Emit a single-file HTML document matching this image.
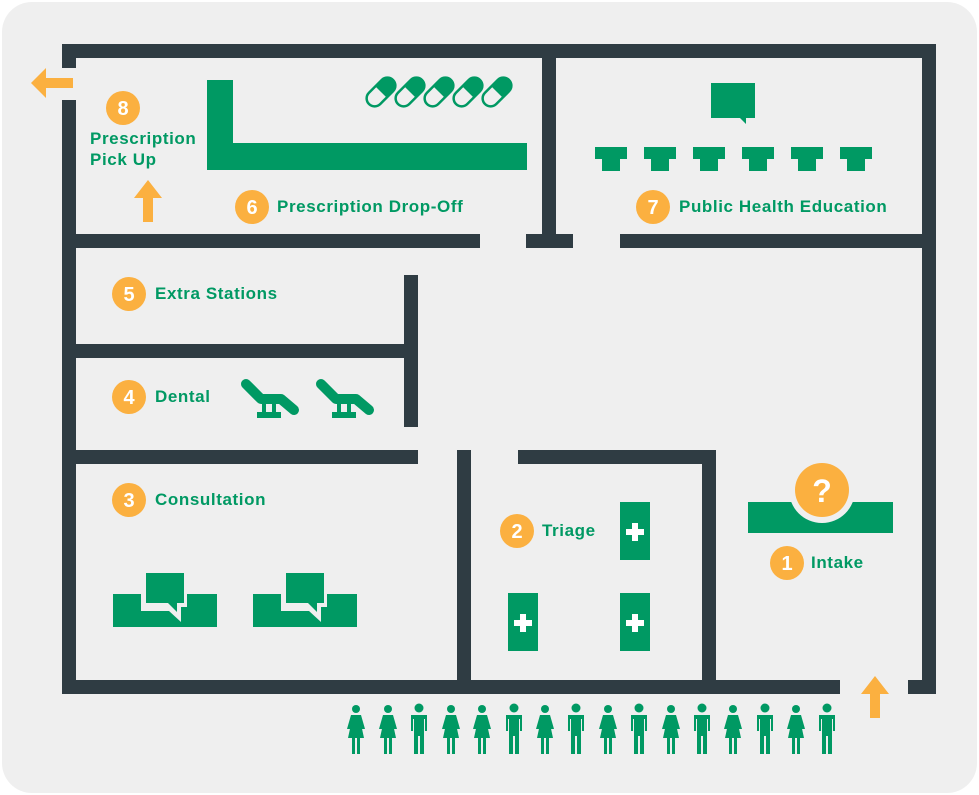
<!DOCTYPE html>
<html><head><meta charset="utf-8"><style>
html,body{margin:0;padding:0;background:#fff;}
svg{display:block}
text{font-family:"Liberation Sans",sans-serif;font-weight:bold;}
</style></head><body>
<svg width="979" height="795" viewBox="0 0 979 795" xmlns="http://www.w3.org/2000/svg">
<defs>
<g id="fem" fill="#009963">
<circle cx="0" cy="-33" r="4"/>
<path d="M-5,-27 H5 L9,-13 H6 L5,-18 L8,-4 H4 V12 H1 V-4 H-1 V12 H-4 V-4 H-8 L-5,-18 L-6,-13 H-9 Z"/>
</g>
<g id="male" fill="#009963">
<circle cx="0" cy="-34" r="4.5"/>
<path d="M-8,-27 H8 V-11 H6 V-23 H5 V12 H1 V-6 H-1 V12 H-5 V-23 H-6 V-11 H-8 Z"/>
</g>
<g id="desk" fill="#009963"><rect x="0" y="0" width="32" height="12"/><rect x="7" y="12" width="18" height="12"/></g>
<g id="chair">
<polyline points="0,0 15,15 35,15 48,26" fill="none" stroke="#009963" stroke-width="10" stroke-linecap="round" stroke-linejoin="round"/>
<rect x="16" y="19" width="4" height="10" fill="#009963"/><rect x="26" y="19" width="4" height="10" fill="#009963"/>
<rect x="11" y="28" width="24" height="6" fill="#009963"/>
</g>
<g id="cons">
<rect x="0" y="0" width="104" height="33" fill="#009963"/>
<path d="M28,-4 H74 V13 H68 V28 L56,17 H28 Z" fill="#efefef"/>
<path d="M33,-21 H71 V9 H64 V18 L55,9 H33 Z" fill="#009963"/>
</g>
<g id="bed"><rect x="0" y="0" width="30" height="58" fill="#009963"/><rect x="12" y="21" width="6" height="18" fill="#fff"/><rect x="6" y="27" width="18" height="6" fill="#fff"/></g>
<g id="pill"><g transform="rotate(-45)"><rect x="-17" y="-8" width="34" height="16" rx="8" fill="none" stroke="#009963" stroke-width="2.5"/><path d="M0,-8 H9 A8,8 0 0 1 9,8 H0 Z" fill="#009963"/></g></g>
</defs>
<rect x="0" y="0" width="979" height="795" fill="#fff"/>
<rect x="2" y="2" width="975" height="791" rx="30" fill="#efefef"/>
<g fill="#2f3c43">
<rect x="62" y="44" width="874" height="14"/>
<rect x="62" y="44" width="14" height="24"/>
<rect x="62" y="100" width="14" height="594"/>
<rect x="922" y="44" width="14" height="650"/>
<rect x="62" y="680" width="778" height="14"/>
<rect x="908" y="680" width="28" height="14"/>
<rect x="542" y="44" width="14" height="204"/>
<rect x="62" y="234" width="418" height="14"/>
<rect x="526" y="234" width="47" height="14"/>
<rect x="620" y="234" width="302" height="14"/>
<rect x="404" y="275" width="14" height="152"/>
<rect x="62" y="344" width="356" height="14"/>
<rect x="62" y="450" width="356" height="14"/>
<rect x="457" y="450" width="14" height="244"/>
<rect x="518" y="450" width="198" height="14"/>
<rect x="702" y="450" width="14" height="244"/>
</g>
<g fill="#fbb040">
<path d="M31,83 L46,68 V78 H73 V88 H46 V98 Z"/>
<path d="M148,180 L162,198 H153 V222 H143 V198 H134 Z"/>
<path d="M875,676 L889,694 H880 V718 H870 V694 H861 Z"/>
</g>
<path d="M207,80 H233 V143 H527 V170 H207 Z" fill="#009963"/>
<use href="#pill" x="381" y="92"/><use href="#pill" x="410" y="92"/><use href="#pill" x="439" y="92"/><use href="#pill" x="468" y="92"/><use href="#pill" x="497" y="92"/>
<path d="M711,83 H755 V118 H746 V124 L740,118 H711 Z" fill="#009963"/>
<use href="#desk" x="595" y="147"/><use href="#desk" x="644" y="147"/><use href="#desk" x="693" y="147"/><use href="#desk" x="742" y="147"/><use href="#desk" x="791" y="147"/><use href="#desk" x="840" y="147"/>
<use href="#chair" x="246" y="384"/><use href="#chair" x="321" y="384"/>
<use href="#cons" x="113" y="594"/><use href="#cons" x="253" y="594"/>
<use href="#bed" x="620" y="502"/><use href="#bed" x="508" y="593"/><use href="#bed" x="620" y="593"/>
<rect x="748" y="502" width="145" height="31" fill="#009963"/>
<circle cx="822" cy="490" r="33" fill="#efefef"/>
<circle cx="822" cy="490" r="27" fill="#fbb040"/>
<text x="822" y="502" font-size="32" fill="#fff" text-anchor="middle">?</text>
<g fill="#fbb040">
<circle cx="123" cy="108" r="17"/><circle cx="252" cy="207" r="17"/><circle cx="653" cy="207" r="17"/>
<circle cx="129" cy="294" r="17"/><circle cx="129" cy="397" r="17"/><circle cx="129" cy="500" r="17"/>
<circle cx="517" cy="531" r="17"/><circle cx="787" cy="563" r="17"/>
</g>
<g fill="#fff" font-size="20" text-anchor="middle">
<text x="123" y="115">8</text><text x="252" y="214">6</text><text x="653" y="214">7</text>
<text x="129" y="301">5</text><text x="129" y="404">4</text><text x="129" y="507">3</text>
<text x="517" y="538">2</text><text x="787" y="570">1</text>
</g>
<g fill="#009963" font-size="17" letter-spacing="0.6">
<text x="90" y="144">Prescription</text><text x="90" y="165">Pick Up</text>
<text x="277" y="212">Prescription Drop-Off</text>
<text x="679" y="212">Public Health Education</text>
<text x="155" y="299">Extra Stations</text>
<text x="155" y="402">Dental</text>
<text x="155" y="505">Consultation</text>
<text x="542" y="536">Triage</text>
<text x="811" y="568">Intake</text>
</g>
<g>
<use href="#fem" x="356" y="742"/><use href="#fem" x="388" y="742"/><use href="#male" x="419" y="742"/><use href="#fem" x="451" y="742"/><use href="#fem" x="482" y="742"/><use href="#male" x="514" y="742"/><use href="#fem" x="545" y="742"/><use href="#male" x="576" y="742"/><use href="#fem" x="608" y="742"/><use href="#male" x="639" y="742"/><use href="#fem" x="671" y="742"/><use href="#male" x="702" y="742"/><use href="#fem" x="733" y="742"/><use href="#male" x="765" y="742"/><use href="#fem" x="796" y="742"/><use href="#male" x="827" y="742"/>
</g>
</svg>
</body></html>
